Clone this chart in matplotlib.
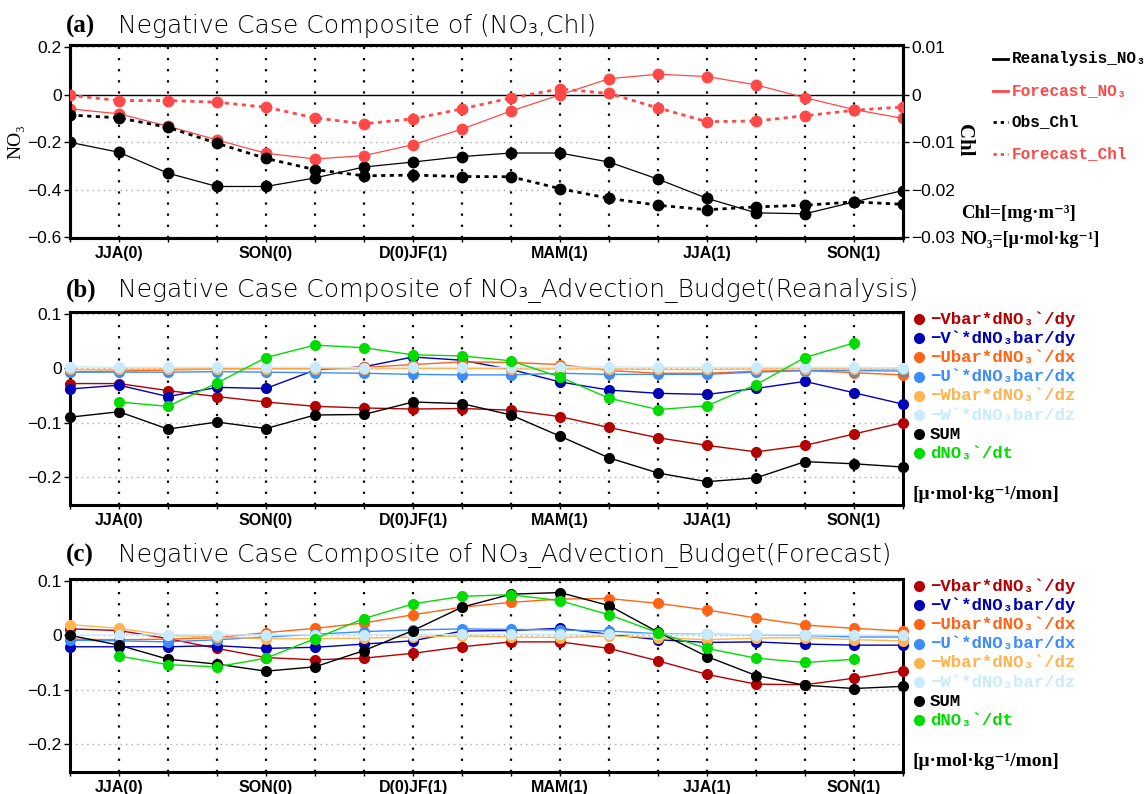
import matplotlib
matplotlib.use("Agg")
import matplotlib.pyplot as plt
import numpy as np

W, H = 1146, 794
nan = np.nan

# 18 running seasons, labelled every third one
months = list(range(18))
label_pos = [1, 4, 7, 10, 13, 16]
label_text = ["JJA(0)", "SON(0)", "D(0)JF(1)", "MAM(1)", "JJA(1)", "SON(1)"]

# (a) NO3 (left axis) and Chl (right axis)
reanalysis_no3 = [-0.200, -0.242, -0.330, -0.386, -0.386, -0.350, -0.304, -0.283, -0.260,
                  -0.245, -0.245, -0.283, -0.355, -0.436, -0.497, -0.501, -0.451, -0.403]
forecast_no3 = [-0.059, -0.080, -0.132, -0.190, -0.246, -0.270, -0.256, -0.210, -0.144,
                -0.068, 0.000, 0.068, 0.087, 0.077, 0.042, -0.012, -0.062, -0.099]
obs_chl = [-0.00425, -0.00485, -0.00685, -0.0102, -0.0134, -0.01575, -0.01705, -0.0169, -0.0172,
           -0.01725, -0.01975, -0.0218, -0.02325, -0.0242, -0.0236, -0.02325, -0.02255, -0.02305]
forecast_chl = [-0.0001, -0.0012, -0.0012, -0.00155, -0.0026, -0.00485, -0.0061, -0.00505, -0.00295,
                -0.00065, 0.00125, 0.0003, -0.00275, -0.00565, -0.0055, -0.0044, -0.00325, -0.00255]

# (b) advection budget terms, reanalysis
vbar_b = [-0.028, -0.028, -0.041, -0.052, -0.062, -0.070, -0.073, -0.075, -0.074,
          -0.077, -0.089, -0.109, -0.128, -0.142, -0.154, -0.142, -0.121, -0.100]
vprime_b = [-0.038, -0.031, -0.052, -0.035, -0.037, -0.003, 0.003, 0.021, 0.015,
            -0.002, -0.025, -0.040, -0.046, -0.048, -0.037, -0.024, -0.045, -0.066]
ubar_b = [-0.006, -0.005, -0.003, -0.001, 0.000, 0.000, 0.002, 0.007, 0.012,
          0.011, 0.007, -0.004, -0.009, -0.009, -0.005, -0.004, -0.008, -0.012]
uprime_b = [-0.007, -0.007, -0.007, -0.006, -0.007, -0.008, -0.009, -0.011, -0.012,
            -0.012, -0.009, -0.011, -0.011, -0.011, -0.007, -0.004, -0.004, -0.005]
wbar_b = [-0.002, -0.002, -0.001, -0.001, -0.001, -0.001, -0.001, 0.000, 0.000,
          -0.001, -0.001, -0.001, -0.002, -0.002, -0.001, -0.001, -0.001, -0.002]
wprime_b = [0.003, 0.002, 0.002, 0.002, 0.002, 0.002, 0.001, 0.002, 0.002,
            0.002, 0.002, 0.003, 0.002, 0.002, 0.002, 0.002, 0.002, 0.001]
sum_b = [-0.090, -0.080, -0.112, -0.099, -0.111, -0.086, -0.085, -0.062, -0.065,
         -0.086, -0.125, -0.165, -0.193, -0.209, -0.202, -0.172, -0.176, -0.182]
dt_b = [nan, -0.062, -0.070, -0.027, 0.020, 0.043, 0.038, 0.025, 0.023,
        0.014, -0.016, -0.055, -0.076, -0.069, -0.030, 0.020, 0.047, nan]

# (c) advection budget terms, forecast
vbar_c = [0.012, 0.009, -0.006, -0.024, -0.041, -0.045, -0.042, -0.033, -0.021,
          -0.012, -0.012, -0.024, -0.047, -0.072, -0.090, -0.091, -0.079, -0.065]
vprime_c = [-0.021, -0.021, -0.021, -0.019, -0.024, -0.022, -0.016, -0.010, 0.008,
            0.009, 0.013, 0.002, -0.008, -0.013, -0.012, -0.016, -0.018, -0.018]
ubar_c = [-0.007, -0.008, -0.007, -0.004, 0.005, 0.013, 0.023, 0.038, 0.052,
          0.061, 0.067, 0.068, 0.059, 0.047, 0.032, 0.019, 0.013, 0.008]
uprime_c = [-0.009, -0.010, -0.012, -0.008, -0.003, 0.002, 0.007, 0.010, 0.012,
            0.011, 0.010, 0.008, 0.003, 0.002, 0.001, 0.000, -0.003, -0.003]
wbar_c = [0.020, 0.013, 0.000, -0.003, -0.006, -0.006, -0.005, -0.003, -0.001,
          -0.003, -0.004, -0.001, -0.004, -0.008, -0.005, -0.004, -0.008, -0.010]
wprime_c = [0.000, 0.001, 0.001, 0.001, 0.001, 0.001, 0.001, 0.001, 0.002,
            0.002, 0.002, 0.002, 0.002, 0.002, 0.001, 0.001, 0.000, 0.000]
sum_c = [0.000, -0.018, -0.044, -0.053, -0.066, -0.058, -0.028, 0.009, 0.052,
         0.076, 0.079, 0.055, 0.006, -0.039, -0.074, -0.092, -0.098, -0.094]
dt_c = [nan, -0.038, -0.054, -0.058, -0.042, -0.006, 0.031, 0.058, 0.072,
        0.075, 0.064, 0.038, 0.005, -0.024, -0.042, -0.050, -0.044, nan]

term_names = ["\u2212Vbar*dNO\u2083`/dy", "\u2212V`*dNO\u2083bar/dy", "\u2212Ubar*dNO\u2083`/dx",
              "\u2212U`*dNO\u2083bar/dx", "\u2212Wbar*dNO\u2083`/dz", "\u2212W`*dNO\u2083bar/dz",
              "SUM", "dNO\u2083`/dt"]
term_colors = ["#b40000", "#0000b4", "#ff6414", "#3c8cff", "#ffb450", "#c8ebff", "#000000", "#00dc00"]

red = "#ff4848"
mono = ["Liberation Mono", "DejaVu Sans Mono"]
serif = ["Liberation Serif", "DejaVu Serif"]
narrow = ["Liberation Sans Narrow", "Liberation Sans", "DejaVu Sans"]

fig = plt.figure(figsize=(W / 100, H / 100), dpi=100)


def px(x, y):
    return x / W, 1 - y / H


def make_axes(top, bottom):
    ax = fig.add_axes([70 / W, 1 - bottom / H, (903 - 70) / W, (bottom - top) / H])
    ax.set_xlim(0, 17)
    ax.set_xticks(months)
    ax.set_xticklabels(["" if m not in label_pos else label_text[label_pos.index(m)] for m in months],
                       family=narrow, fontweight="bold", fontsize=11.5)
    ax.tick_params(axis="x", direction="out", length=3, width=1, pad=3)
    ax.tick_params(axis="y", direction="out", length=4, width=1, pad=2, labelsize=12.5)
    for m in months[1:-1]:
        ax.axvline(m, color="black", lw=1.6, ls=(0, (1, 4)), zorder=1)
    for s in ax.spines.values():
        s.set_linewidth(2.2)
    return ax


def hgrid(ax, levels):
    for v in levels:
        ax.axhline(v, color="#aaaaaa", lw=1, ls=(0, (1, 3)), zorder=1)


def title(y, tag, text):
    fig.text(*px(66, y), tag, family=serif, fontweight="bold", fontsize=18, va="baseline")
    fig.text(*px(118, y), text, family=["DejaVu Sans"], fontweight="light", fontsize=18,
             va="baseline")


# ---- panel (a)
ax = make_axes(45, 238)
ax.set_ylim(-0.603, 0.21)
ax.set_yticks([0.2, 0, -0.2, -0.4, -0.6])
ax.set_yticklabels(["0.2", "0", "\u22120.2", "\u22120.4", "\u22120.6"], family=narrow, fontsize=12.5)
hgrid(ax, [0.2, -0.2, -0.4, -0.6])
ax.axhline(0, color="black", lw=1, zorder=2)
ax.plot(months, reanalysis_no3, color="black", lw=0.9, marker="o", ms=7.5, zorder=4)
ax.plot(months, forecast_no3, color=red, lw=0.9, marker="o", ms=7.5, zorder=4)
ax.set_ylabel("NO\u2083", family=serif, fontsize=14, labelpad=2)

ax2 = ax.twinx()
ax2.set_xlim(0, 17)
ax2.set_ylim(-0.603 / 20, 0.21 / 20)
ax2.set_yticks([0.01, 0, -0.01, -0.02, -0.03])
ax2.set_yticklabels(["0.01", "0", "\u22120.01", "\u22120.02", "\u22120.03"], family=narrow, fontsize=12.5)
ax2.tick_params(axis="y", direction="out", length=4, width=1, pad=2)
ax2.plot(months, obs_chl, color="black", lw=2, ls=(0, (1.5, 1.6)), marker="o", ms=7.5, zorder=4)
ax2.plot(months, forecast_chl, color=red, lw=2, ls=(0, (1.5, 1.6)), marker="o", ms=7.5, zorder=4)
for s in ax2.spines.values():
    s.set_linewidth(2.2)
fig.text(*px(964, 140), "Chl", family=serif, fontweight="bold", fontsize=15, rotation=-90,
         ha="center", va="center")

title(33, "(a)", "Negative Case Composite of (NO\u2083,Chl)")

legend_a = [("Reanalysis_NO\u2083", "black", "-"), ("Forecast_NO\u2083", red, "-"),
            ("Obs_Chl", "black", (0, (1.2, 1.4))), ("Forecast_Chl", red, (0, (1.2, 1.4)))]
for i, (name, col, ls) in enumerate(legend_a):
    y = 59 + i * 31.5
    fig.add_artist(plt.Line2D([993 / W, 1008 / W], [1 - y / H] * 2, color=col, lw=2, ls=ls))
    fig.text(*px(1012, y), name, color=col, family=mono, fontweight="bold", fontsize=11.5, va="center")
fig.text(*px(961, 213), "Chl=[mg\u00b7m\u207b\u00b3]", family=serif, fontweight="bold", fontsize=13.5,
         va="center")
fig.text(*px(961, 239), "NO\u2083=[\u03bc\u00b7mol\u00b7kg\u207b\u00b9]", family=serif, fontweight="bold",
         fontsize=13, va="center")


# ---- panels (b) and (c)
def budget_panel(top, bottom, series):
    ax = make_axes(top, bottom)
    ax.set_ylim(-0.252, 0.104)
    ax.set_yticks([0.1, 0, -0.1, -0.2])
    ax.set_yticklabels(["0.1", "0", "\u22120.1", "\u22120.2"], family=narrow, fontsize=12.5)
    hgrid(ax, [0.1, 0, -0.1, -0.2])
    for vals, col in zip(series, term_colors):
        ax.plot(months, vals, color=col, lw=1, marker="o", ms=7, zorder=4, clip_on=False)
    for i, (name, col) in enumerate(zip(term_names, term_colors)):
        y = top + 7 + i * 19.2
        fig.add_artist(plt.Line2D([919 / W], [1 - y / H], marker="o", ms=7, color=col, lw=0))
        fig.text(*px(930, y), name, color=col, family=mono, fontweight="bold", fontsize=12.5,
                 va="center")
    fig.text(*px(912, bottom - 11), "[\u03bc\u00b7mol\u00b7kg\u207b\u00b9/mon]", family=serif,
             fontweight="bold", fontsize=14, va="center")
    return ax


budget_panel(312, 505, [vbar_b, vprime_b, ubar_b, uprime_b, wbar_b, wprime_b, sum_b, dt_b])
title(297, "(b)", "Negative Case Composite of NO\u2083_Advection_Budget(Reanalysis)")

budget_panel(579, 772, [vbar_c, vprime_c, ubar_c, uprime_c, wbar_c, wprime_c, sum_c, dt_c])
title(562, "(c)", "Negative Case Composite of NO\u2083_Advection_Budget(Forecast)")

fig.savefig("out.png", dpi=100)
